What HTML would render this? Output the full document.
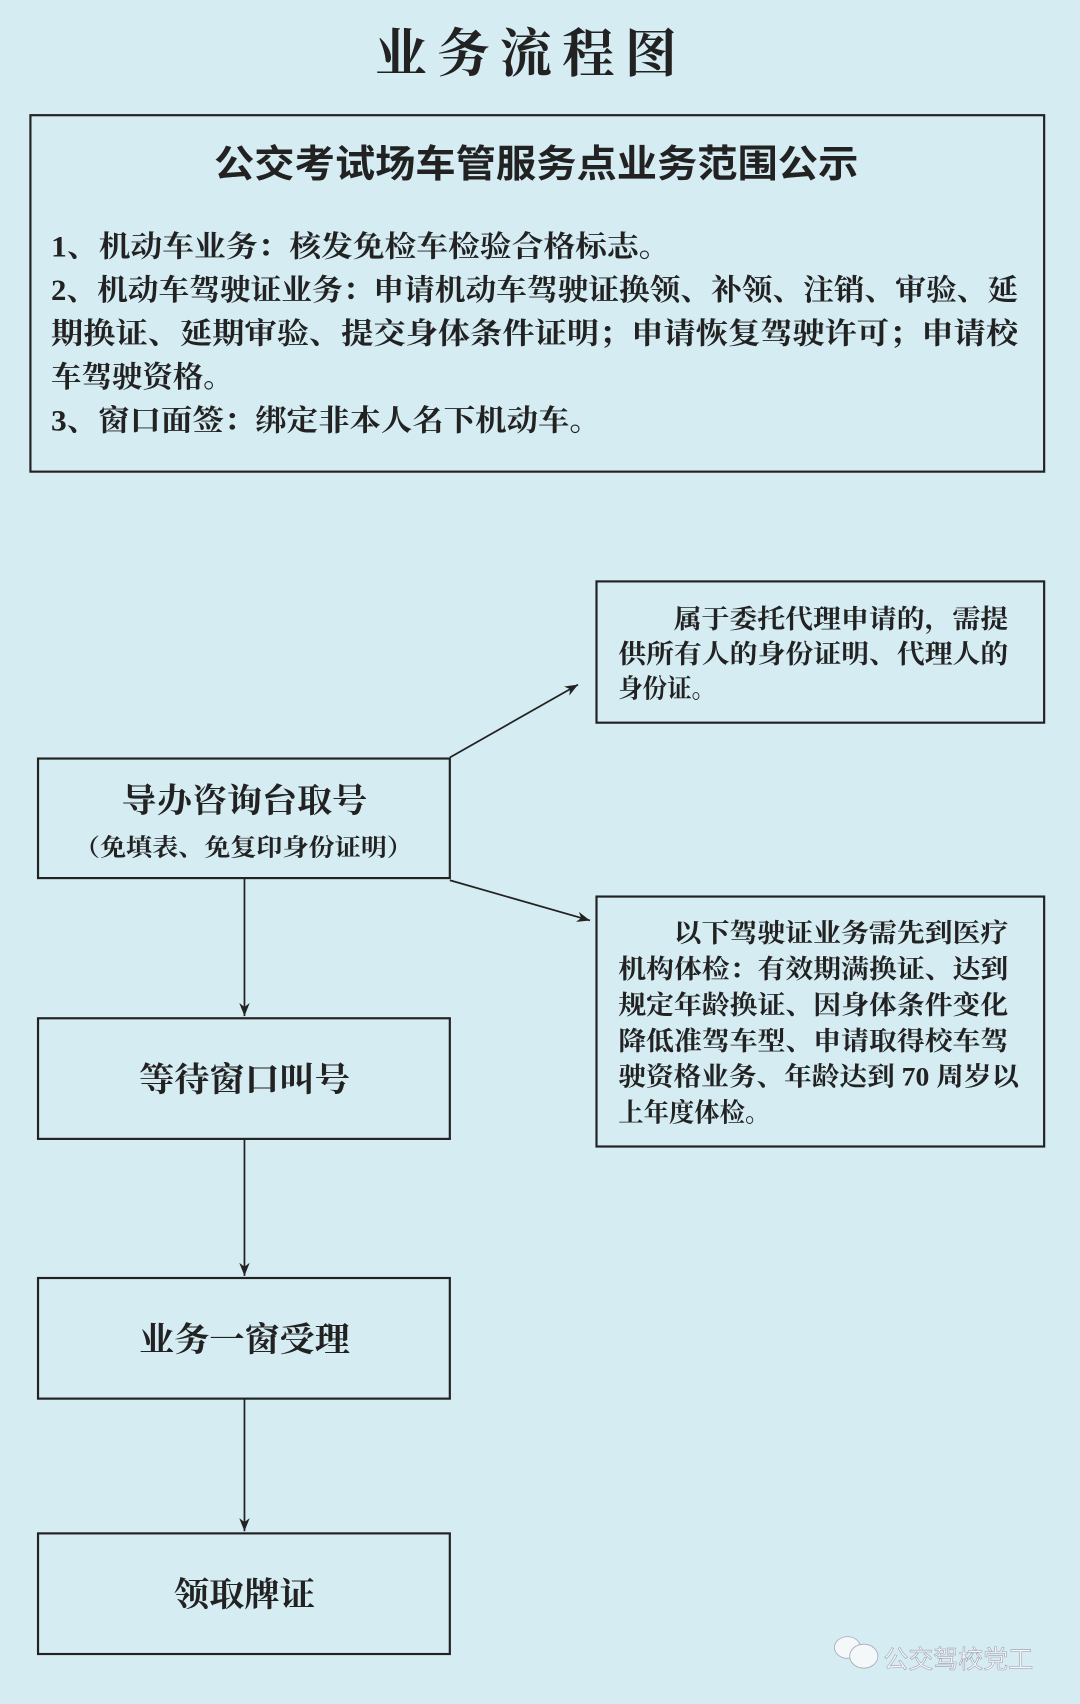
<!DOCTYPE html>
<html><head><meta charset="utf-8"><style>
html,body{margin:0;padding:0;background:#d5ecf2;}
svg{display:block}
.s{font-family:"Liberation Serif","Noto Serif CJK SC",serif;font-weight:bold;fill:#222}
.h{font-family:"Liberation Sans","Noto Sans CJK SC",sans-serif;font-weight:bold;fill:#222}
</style></head><body>
<svg width="1080" height="1704" viewBox="0 0 994 1568" preserveAspectRatio="none" xmlns="http://www.w3.org/2000/svg">
<defs><marker id="a" viewBox="0 0 10 10" refX="10" refY="5" markerWidth="12" markerHeight="12" markerUnits="userSpaceOnUse" orient="auto"><path d="M0,1 L10,5 L0,9 L3,5z" fill="#222"/></marker></defs>
<rect width="994" height="1568" fill="#d5ecf2"/>
<text class="s" x="345" y="66" font-size="48" letter-spacing="12" textLength="290" lengthAdjust="spacing">业务流程图</text>
<rect x="28" y="106" width="933" height="328" fill="none" stroke="#222" stroke-width="2"/>
<text class="h" x="197" y="163" font-size="35" textLength="593" lengthAdjust="spacingAndGlyphs">公交考试场车管服务点业务范围公示</text>
<g class="s" font-size="27">
<text x="47" y="236" textLength="570" lengthAdjust="spacingAndGlyphs">1、机动车业务：核发免检车检验合格标志。</text>
<text x="47" y="276" textLength="890" lengthAdjust="spacingAndGlyphs">2、机动车驾驶证业务：申请机动车驾驶证换领、补领、注销、审验、延</text>
<text x="47" y="316" textLength="890" lengthAdjust="spacingAndGlyphs">期换证、延期审验、提交身体条件证明；申请恢复驾驶许可；申请校</text>
<text x="47" y="356" textLength="168" lengthAdjust="spacingAndGlyphs">车驾驶资格。</text>
<text x="47" y="396" textLength="506" lengthAdjust="spacingAndGlyphs">3、窗口面签：绑定非本人名下机动车。</text>
</g>
<rect x="549" y="535" width="412" height="130" fill="none" stroke="#222" stroke-width="2"/>
<g class="s" font-size="24">
<text x="620" y="578" textLength="308" lengthAdjust="spacingAndGlyphs">属于委托代理申请的，需提</text>
<text x="569" y="610" textLength="359" lengthAdjust="spacingAndGlyphs">供所有人的身份证明、代理人的</text>
<text x="569" y="642" textLength="90" lengthAdjust="spacingAndGlyphs">身份证。</text>
</g>
<rect x="549" y="825" width="412" height="230" fill="none" stroke="#222" stroke-width="2"/>
<g class="s" font-size="24">
<text x="620" y="867" textLength="308" lengthAdjust="spacingAndGlyphs">以下驾驶证业务需先到医疗</text>
<text x="569" y="900" textLength="359" lengthAdjust="spacingAndGlyphs">机构体检：有效期满换证、达到</text>
<text x="569" y="933" textLength="359" lengthAdjust="spacingAndGlyphs">规定年龄换证、因身体条件变化</text>
<text x="569" y="966" textLength="359" lengthAdjust="spacingAndGlyphs">降低准驾车型、申请取得校车驾</text>
<text x="569" y="999" textLength="369" lengthAdjust="spacingAndGlyphs">驶资格业务、年龄达到 70 周岁以</text>
<text x="569" y="1032" textLength="140" lengthAdjust="spacingAndGlyphs">上年度体检。</text>
</g>
<g fill="none" stroke="#222" stroke-width="2">
<rect x="35" y="698" width="379" height="110"/>
<rect x="35" y="937" width="379" height="111"/>
<rect x="35" y="1176" width="379" height="111"/>
<rect x="35" y="1411" width="379" height="111"/>
</g>
<g stroke="#222" stroke-width="1.6" marker-end="url(#a)">
<line x1="225" y1="808" x2="225" y2="935"/>
<line x1="225" y1="1048" x2="225" y2="1174"/>
<line x1="225" y1="1287" x2="225" y2="1409"/>
<line x1="414" y1="697" x2="532" y2="630"/>
<line x1="414" y1="810" x2="543" y2="847"/>
</g>
<g class="s" font-size="31">
<text x="112" y="747" textLength="226" lengthAdjust="spacingAndGlyphs">导办咨询台取号</text>
<text x="68" y="787" font-size="22" textLength="312" lengthAdjust="spacingAndGlyphs">（免填表、免复印身份证明）</text>
<text x="128" y="1004" textLength="194" lengthAdjust="spacingAndGlyphs">等待窗口叫号</text>
<text x="128" y="1243" textLength="194" lengthAdjust="spacingAndGlyphs">业务一窗受理</text>
<text x="160" y="1478" textLength="130" lengthAdjust="spacingAndGlyphs">领取牌证</text>
</g>
<g fill="#f4f8f9" stroke="#aab" stroke-width="0.8">
<ellipse cx="780" cy="1516" rx="12" ry="10"/>
<ellipse cx="795" cy="1524" rx="13" ry="11"/>
</g>
<text x="813" y="1535" font-family="Liberation Sans,Noto Sans CJK SC,sans-serif" font-size="23" fill="#f4f8f9" stroke="#99a" stroke-width="0.5">公交驾校党工</text>
</svg>
</body></html>
